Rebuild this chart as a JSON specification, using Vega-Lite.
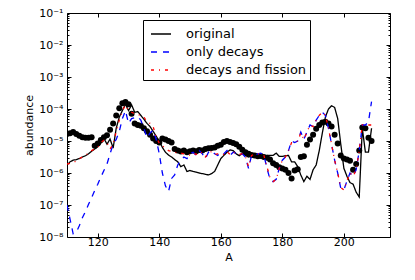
{
  "$schema": "https://vega.github.io/schema/vega-lite/v6.json",
  "width": 323,
  "height": 224,
  "autosize": "none",
  "padding": {"left": 67, "top": 13, "right": 25, "bottom": 43},
  "background": "white",
  "datasets": {
    "abund": [
      {"A":110,"original":1.78e-6,"only decays":1e-7,"decays and fission":1.91e-6,"dots":1.66e-5},
      {"A":111,"original":2.24e-6,"only decays":3.55e-8,"decays and fission":2.0e-6,"dots":1.74e-5},
      {"A":112,"original":2.51e-6,"only decays":1.26e-8,"decays and fission":2.09e-6,"dots":1.91e-5},
      {"A":113,"original":2.63e-6,"only decays":1.41e-8,"decays and fission":2.40e-6,"dots":1.66e-5},
      {"A":114,"original":2.82e-6,"only decays":2.24e-8,"decays and fission":2.82e-6,"dots":1.45e-5},
      {"A":115,"original":3.16e-6,"only decays":3.98e-8,"decays and fission":3.16e-6,"dots":1.32e-5},
      {"A":116,"original":3.47e-6,"only decays":6.31e-8,"decays and fission":3.55e-6,"dots":1.26e-5},
      {"A":117,"original":3.98e-6,"only decays":1.05e-7,"decays and fission":4.17e-6,"dots":1.26e-5},
      {"A":118,"original":4.79e-6,"only decays":1.70e-7,"decays and fission":5.01e-6,"dots":1.32e-5},
      {"A":119,"original":5.62e-6,"only decays":2.82e-7,"decays and fission":5.62e-6,"dots":7.08e-6},
      {"A":120,"original":6.61e-6,"only decays":4.47e-7,"decays and fission":6.31e-6,"dots":8.32e-6},
      {"A":121,"original":8.51e-6,"only decays":7.41e-7,"decays and fission":8.91e-6,"dots":1.07e-5},
      {"A":122,"original":1.20e-5,"only decays":1.20e-6,"decays and fission":1.05e-5,"dots":1.32e-5},
      {"A":123,"original":7.94e-6,"only decays":1.91e-6,"decays and fission":8.91e-6,"dots":1.51e-5},
      {"A":124,"original":1.15e-5,"only decays":3.98e-6,"decays and fission":5.62e-6,"dots":2.24e-5},
      {"A":125,"original":6.03e-6,"only decays":7.94e-6,"decays and fission":7.94e-6,"dots":3.55e-5},
      {"A":126,"original":2.51e-5,"only decays":1.12e-5,"decays and fission":2.0e-5,"dots":6.31e-5},
      {"A":127,"original":5.62e-5,"only decays":2.0e-5,"decays and fission":4.47e-5,"dots":1.05e-4},
      {"A":128,"original":8.91e-5,"only decays":5.01e-5,"decays and fission":8.91e-5,"dots":1.51e-4},
      {"A":129,"original":1.41e-4,"only decays":8.91e-5,"decays and fission":1.32e-4,"dots":1.66e-4},
      {"A":130,"original":8.91e-5,"only decays":3.55e-5,"decays and fission":8.91e-5,"dots":1.41e-4},
      {"A":131,"original":1.35e-4,"only decays":5.01e-5,"decays and fission":7.94e-5,"dots":7.08e-5},
      {"A":132,"original":7.94e-5,"only decays":5.37e-5,"decays and fission":7.08e-5,"dots":3.55e-5},
      {"A":133,"original":8.32e-5,"only decays":5.75e-5,"decays and fission":6.61e-5,"dots":3.16e-5},
      {"A":134,"original":6.31e-5,"only decays":4.47e-5,"decays and fission":6.31e-5,"dots":3.02e-5},
      {"A":135,"original":4.79e-5,"only decays":2.51e-5,"decays and fission":5.62e-5,"dots":2.51e-5},
      {"A":136,"original":3.55e-5,"only decays":1.26e-5,"decays and fission":3.98e-5,"dots":2.0e-5},
      {"A":137,"original":2.82e-5,"only decays":1.78e-5,"decays and fission":3.55e-5,"dots":1.58e-5},
      {"A":138,"original":2.0e-5,"only decays":2.19e-5,"decays and fission":2.82e-5,"dots":1.20e-5},
      {"A":139,"original":1.41e-5,"only decays":1.12e-5,"decays and fission":1.35e-5,"dots":1.0e-5},
      {"A":140,"original":1.0e-5,"only decays":3.98e-6,"decays and fission":8.51e-6,"dots":8.91e-6},
      {"A":141,"original":6.31e-6,"only decays":1.0e-6,"decays and fission":7.08e-6,"dots":1.20e-5},
      {"A":142,"original":4.47e-6,"only decays":3.98e-7,"decays and fission":5.89e-6,"dots":1.12e-5},
      {"A":143,"original":3.63e-6,"only decays":2.63e-7,"decays and fission":5.01e-6,"dots":1.0e-5},
      {"A":144,"original":3.16e-6,"only decays":6.76e-7,"decays and fission":4.68e-6,"dots":8.91e-6},
      {"A":145,"original":2.63e-6,"only decays":8.71e-7,"decays and fission":4.47e-6,"dots":5.62e-6},
      {"A":146,"original":2.24e-6,"only decays":1.78e-6,"decays and fission":4.17e-6,"dots":5.01e-6},
      {"A":147,"original":1.58e-6,"only decays":2.51e-6,"decays and fission":4.17e-6,"dots":4.68e-6},
      {"A":148,"original":1.78e-6,"only decays":3.16e-6,"decays and fission":3.98e-6,"dots":5.01e-6},
      {"A":149,"original":1.12e-6,"only decays":2.82e-6,"decays and fission":3.80e-6,"dots":4.47e-6},
      {"A":150,"original":1.20e-6,"only decays":3.98e-6,"decays and fission":3.63e-6,"dots":4.79e-6},
      {"A":151,"original":1.12e-6,"only decays":4.47e-6,"decays and fission":4.17e-6,"dots":5.01e-6},
      {"A":152,"original":1.07e-6,"only decays":3.55e-6,"decays and fission":3.80e-6,"dots":4.79e-6},
      {"A":153,"original":1.0e-6,"only decays":5.01e-6,"decays and fission":4.68e-6,"dots":5.25e-6},
      {"A":154,"original":9.55e-7,"only decays":3.98e-6,"decays and fission":4.17e-6,"dots":5.01e-6},
      {"A":155,"original":9.12e-7,"only decays":2.82e-6,"decays and fission":3.16e-6,"dots":5.62e-6},
      {"A":156,"original":8.71e-7,"only decays":4.47e-6,"decays and fission":4.27e-6,"dots":5.89e-6},
      {"A":157,"original":9.55e-7,"only decays":5.01e-6,"decays and fission":4.68e-6,"dots":6.03e-6},
      {"A":158,"original":1.12e-6,"only decays":3.98e-6,"decays and fission":3.80e-6,"dots":6.31e-6},
      {"A":159,"original":1.78e-6,"only decays":3.55e-6,"decays and fission":3.98e-6,"dots":7.08e-6},
      {"A":160,"original":2.82e-6,"only decays":4.47e-6,"decays and fission":4.17e-6,"dots":7.59e-6},
      {"A":161,"original":3.55e-6,"only decays":3.98e-6,"decays and fission":3.80e-6,"dots":9.33e-6},
      {"A":162,"original":4.47e-6,"only decays":5.01e-6,"decays and fission":4.68e-6,"dots":1.0e-5},
      {"A":163,"original":5.25e-6,"only decays":3.55e-6,"decays and fission":3.80e-6,"dots":9.33e-6},
      {"A":164,"original":5.01e-6,"only decays":4.47e-6,"decays and fission":4.47e-6,"dots":8.71e-6},
      {"A":165,"original":3.98e-6,"only decays":4.17e-6,"decays and fission":3.98e-6,"dots":7.94e-6},
      {"A":166,"original":3.47e-6,"only decays":3.55e-6,"decays and fission":3.80e-6,"dots":6.61e-6},
      {"A":167,"original":4.17e-6,"only decays":3.98e-6,"decays and fission":3.98e-6,"dots":5.37e-6},
      {"A":168,"original":3.55e-6,"only decays":3.16e-6,"decays and fission":3.31e-6,"dots":4.47e-6},
      {"A":169,"original":3.16e-6,"only decays":1.41e-6,"decays and fission":1.58e-6,"dots":3.98e-6},
      {"A":170,"original":3.55e-6,"only decays":3.55e-6,"decays and fission":3.55e-6,"dots":3.63e-6},
      {"A":171,"original":3.31e-6,"only decays":3.55e-6,"decays and fission":3.80e-6,"dots":3.55e-6},
      {"A":172,"original":3.16e-6,"only decays":3.98e-6,"decays and fission":3.98e-6,"dots":3.31e-6},
      {"A":173,"original":3.39e-6,"only decays":4.17e-6,"decays and fission":3.98e-6,"dots":3.39e-6},
      {"A":174,"original":3.16e-6,"only decays":3.55e-6,"decays and fission":3.55e-6,"dots":3.16e-6},
      {"A":175,"original":3.55e-6,"only decays":1.41e-6,"decays and fission":1.58e-6,"dots":3.02e-6},
      {"A":176,"original":3.55e-6,"only decays":6.31e-7,"decays and fission":7.08e-7,"dots":2.63e-6},
      {"A":177,"original":3.55e-6,"only decays":5.37e-7,"decays and fission":5.37e-7,"dots":2.0e-6},
      {"A":178,"original":4.17e-6,"only decays":6.31e-7,"decays and fission":6.31e-7,"dots":1.78e-6},
      {"A":179,"original":3.31e-6,"only decays":1.41e-6,"decays and fission":1.41e-6,"dots":1.51e-6},
      {"A":180,"original":3.31e-6,"only decays":2.51e-6,"decays and fission":2.51e-6,"dots":1.38e-6},
      {"A":181,"original":3.47e-6,"only decays":3.16e-6,"decays and fission":3.16e-6,"dots":1.26e-6},
      {"A":182,"original":3.55e-6,"only decays":5.01e-6,"decays and fission":5.01e-6,"dots":1.0e-6},
      {"A":183,"original":2.24e-6,"only decays":1.0e-5,"decays and fission":8.91e-6,"dots":6.76e-7},
      {"A":184,"original":2.24e-6,"only decays":8.91e-6,"decays and fission":8.91e-6,"dots":1.20e-6},
      {"A":185,"original":1.58e-6,"only decays":1.0e-5,"decays and fission":1.0e-5,"dots":1.32e-6},
      {"A":186,"original":8.71e-7,"only decays":1.91e-5,"decays and fission":1.78e-5,"dots":3.16e-6},
      {"A":187,"original":5.37e-7,"only decays":1.12e-5,"decays and fission":1.12e-5,"dots":3.31e-6},
      {"A":188,"original":7.94e-7,"only decays":1.91e-5,"decays and fission":1.91e-5,"dots":7.59e-6},
      {"A":189,"original":6.31e-7,"only decays":3.16e-5,"decays and fission":3.16e-5,"dots":1.12e-5},
      {"A":190,"original":1.26e-6,"only decays":2.82e-5,"decays and fission":2.82e-5,"dots":1.58e-5},
      {"A":191,"original":1.78e-6,"only decays":4.47e-5,"decays and fission":4.47e-5,"dots":2.40e-5},
      {"A":192,"original":5.01e-6,"only decays":6.31e-5,"decays and fission":6.31e-5,"dots":3.16e-5},
      {"A":193,"original":1.78e-5,"only decays":7.94e-5,"decays and fission":7.94e-5,"dots":3.80e-5},
      {"A":194,"original":5.62e-5,"only decays":6.31e-5,"decays and fission":6.31e-5,"dots":3.98e-5},
      {"A":195,"original":1.0e-4,"only decays":2.51e-5,"decays and fission":2.51e-5,"dots":3.55e-5},
      {"A":196,"original":1.26e-4,"only decays":7.94e-6,"decays and fission":7.94e-6,"dots":2.82e-5},
      {"A":197,"original":1.12e-4,"only decays":2.51e-6,"decays and fission":2.51e-6,"dots":1.58e-5},
      {"A":198,"original":5.01e-5,"only decays":1.0e-6,"decays and fission":1.0e-6,"dots":8.32e-6},
      {"A":199,"original":7.94e-6,"only decays":3.31e-7,"decays and fission":3.55e-7,"dots":3.55e-6},
      {"A":200,"original":1.41e-6,"only decays":2.95e-7,"decays and fission":2.95e-7,"dots":2.82e-6},
      {"A":201,"original":7.94e-7,"only decays":5.62e-7,"decays and fission":5.62e-7,"dots":2.63e-6},
      {"A":202,"original":5.01e-7,"only decays":1.0e-6,"decays and fission":1.0e-6,"dots":2.40e-6},
      {"A":203,"original":4.47e-7,"only decays":7.94e-7,"decays and fission":7.94e-7,"dots":1.26e-6},
      {"A":204,"original":2.51e-7,"only decays":1.26e-6,"decays and fission":1.26e-6,"dots":1.91e-6},
      {"A":205,"original":1.78e-7,"only decays":5.01e-6,"decays and fission":5.01e-6,"dots":5.01e-6},
      {"A":206,"original":2.51e-5,"only decays":3.16e-5,"decays and fission":3.16e-5,"dots":2.63e-5},
      {"A":207,"original":4.47e-6,"only decays":3.16e-5,"decays and fission":3.16e-5,"dots":2.51e-5},
      {"A":208,"original":4.47e-6,"only decays":3.98e-5,"decays and fission":3.16e-5,"dots":1.26e-5},
      {"A":209,"original":2.51e-5,"only decays":1.70e-4,"decays and fission":3.16e-5,"dots":1.0e-5}
    ]
  },
  "data": {"name": "abund"},
  "layer": [
    {
      "mark": {"type": "circle", "size": 36, "color": "black", "opacity": 1, "clip": true},
      "encoding": {
        "x": {"field": "A", "type": "quantitative", "scale": {"domain": [110, 215], "nice": false, "zero": false},
              "axis": {"orient": "top", "title": null, "labels": false, "values": [120, 140, 160, 180, 200], "tickSize": -4}},
        "y": {"field": "dots", "type": "quantitative", "scale": {"type": "log", "domain": [1e-8, 0.1], "nice": false},
              "axis": {"orient": "right", "title": null, "labels": false,
                       "values": [1e-8,2e-8,3e-8,4e-8,5e-8,6e-8,7e-8,8e-8,9e-8,1e-7,2e-7,3e-7,4e-7,5e-7,6e-7,7e-7,8e-7,9e-7,1e-6,2e-6,3e-6,4e-6,5e-6,6e-6,7e-6,8e-6,9e-6,1e-5,2e-5,3e-5,4e-5,5e-5,6e-5,7e-5,8e-5,9e-5,1e-4,2e-4,3e-4,4e-4,5e-4,6e-4,7e-4,8e-4,9e-4,1e-3,2e-3,3e-3,4e-3,5e-3,6e-3,7e-3,8e-3,9e-3,1e-2,2e-2,3e-2,4e-2,5e-2,6e-2,7e-2,8e-2,9e-2,1e-1],
                       "tickSize": {"condition": {"test": "abs(log(datum.value)/LN10 - round(log(datum.value)/LN10)) < 0.01", "value": -4}, "value": -2}}}
      }
    },
    {
      "transform": [{"fold": ["original", "only decays", "decays and fission"], "as": ["series", "v"]}],
      "mark": {"type": "line", "strokeWidth": 1.3, "clip": true},
      "encoding": {
        "x": {"field": "A", "type": "quantitative", "scale": {"domain": [110, 215], "nice": false, "zero": false},
              "axis": {"orient": "bottom", "title": "A", "values": [120, 140, 160, 180, 200], "tickSize": -4, "labelPadding": 3, "titlePadding": 4}},
        "y": {"field": "v", "type": "quantitative", "scale": {"type": "log", "domain": [1e-8, 0.1], "nice": false},
              "axis": {"orient": "left", "title": "abundance",
                       "values": [1e-8,2e-8,3e-8,4e-8,5e-8,6e-8,7e-8,8e-8,9e-8,1e-7,2e-7,3e-7,4e-7,5e-7,6e-7,7e-7,8e-7,9e-7,1e-6,2e-6,3e-6,4e-6,5e-6,6e-6,7e-6,8e-6,9e-6,1e-5,2e-5,3e-5,4e-5,5e-5,6e-5,7e-5,8e-5,9e-5,1e-4,2e-4,3e-4,4e-4,5e-4,6e-4,7e-4,8e-4,9e-4,1e-3,2e-3,3e-3,4e-3,5e-3,6e-3,7e-3,8e-3,9e-3,1e-2,2e-2,3e-2,4e-2,5e-2,6e-2,7e-2,8e-2,9e-2,1e-1],
                       "labelExpr": "abs(log(datum.value)/LN10 - round(log(datum.value)/LN10)) < 0.01 ? '10⁻' + ['','¹','²','³','⁴','⁵','⁶','⁷','⁸'][-round(log(datum.value)/LN10)] : ''",
                       "tickSize": {"condition": {"test": "abs(log(datum.value)/LN10 - round(log(datum.value)/LN10)) < 0.01", "value": -4}, "value": -2},
                       "labelPadding": 8, "titlePadding": 4}},
        "color": {"field": "series", "type": "nominal",
                  "scale": {"domain": ["original", "only decays", "decays and fission"], "range": ["#000000", "#0000ff", "#ff0000"]},
                  "legend": {"orient": "none", "legendX": 76, "legendY": 7, "title": null, "symbolType": "stroke", "symbolSize": 400, "symbolStrokeWidth": 1.3, "symbolOffset": 4, "labelFontSize": 13, "labelFont": "DejaVu Sans", "labelColor": "black", "labelOffset": 14, "padding": 3, "rowPadding": 0, "strokeColor": "black", "fillColor": "white"}},
        "strokeDash": {"field": "series", "type": "nominal",
                  "scale": {"domain": ["original", "only decays", "decays and fission"], "range": [[1, 0], [6, 6], [3, 5, 1, 5]]},
                  "legend": {"orient": "none", "legendX": 76, "legendY": 7, "title": null, "symbolType": "stroke", "symbolSize": 400, "symbolStrokeWidth": 1.3, "symbolOffset": 4, "labelFontSize": 13, "labelFont": "DejaVu Sans", "labelColor": "black", "labelOffset": 14, "padding": 3, "rowPadding": 0, "strokeColor": "black", "fillColor": "white"}}
      }
    }
  ],
  "resolve": {"axis": {"x": "independent", "y": "independent"}},
  "config": {
    "view": {"stroke": "black", "strokeWidth": 1},
    "axis": {"domain": false, "grid": false, "tickColor": "black", "tickWidth": 1, "labelColor": "black", "labelFont": "DejaVu Sans", "labelFontSize": 11, "titleFont": "DejaVu Sans", "titleFontSize": 11, "titleFontWeight": "normal", "titleColor": "black", "labelFlush": false, "labelOverlap": false}
  }
}
